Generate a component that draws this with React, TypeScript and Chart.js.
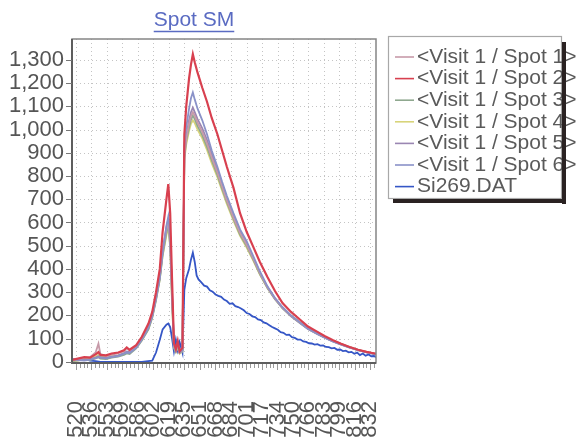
import React, { useEffect, useRef } from 'react';
import { Chart, registerables } from 'chart.js';

Chart.register(...registerables);

const chartTitle = 'Spot SM';

const wavelengths = [
  516, 522, 529, 535, 541, 544, 546, 552, 558, 565, 571, 574, 577, 584, 590, 597, 601, 605, 609, 612,
  616, 618, 620, 622, 624, 626, 628, 630, 633, 635, 637, 640, 642, 644, 646, 649, 654, 659, 664, 670,
  675, 680, 687, 694, 701, 708, 715, 723, 731, 739, 748, 758, 766, 776, 784, 792, 801, 810, 819, 828,
  834, 838,
];

const xTickLabels = [
  '520', '536', '553', '569', '586', '602', '619', '635', '651', '668',
  '684', '701', '717', '734', '750', '766', '783', '799', '816', '832',
];

const yTickValues = [0, 100, 200, 300, 400, 500, 600, 700, 800, 900, 1000, 1100, 1200, 1300];

const spot1 = [
  5, 10, 18, 20, 40, 78, 35, 25, 30, 38, 45, 60, 48, 65, 100, 150, 200, 280, 370, 480,
  570, 600, 520, 280, 70, 50, 75, 40, 50, 890, 960, 1025, 1058, 1075, 1060, 1030, 990, 940, 880, 815,
  755, 695, 622, 555, 505, 445, 383, 322, 273, 234, 199, 168, 144, 122, 106, 91, 77, 64, 52, 43,
  37, 33,
];

const spot2 = [
  8, 14, 20, 18, 32, 42, 30, 28, 36, 40, 50, 62, 52, 72, 108, 165, 215, 300, 400, 560,
  700, 765, 640, 350, 80, 55, 90, 45, 60, 980, 1100, 1220, 1280, 1325, 1290, 1245, 1180, 1120, 1050, 980,
  910, 840, 750, 640, 560, 495, 430, 365, 305, 253, 215, 180, 152, 129, 110, 94, 78, 64, 52, 43,
  38, 35,
];

const spot3 = [
  3, 6, 10, 8, 15, 20, 14, 12, 18, 22, 30, 36, 34, 58, 92, 140, 190, 265, 355, 460,
  555, 590, 500, 260, 65, 45, 70, 38, 48, 880, 950, 1010, 1042, 1060, 1045, 1015, 975, 925, 868, 805,
  745, 688, 615, 548, 498, 440, 378, 318, 270, 230, 196, 165, 141, 120, 104, 89, 75, 62, 50, 42,
  36, 32,
];

const spot4 = [
  2, 5, 12, 15, 22, 30, 25, 22, 26, 28, 35, 42, 40, 60, 95, 142, 192, 268, 355, 455,
  545, 580, 490, 250, 60, 42, 65, 35, 45, 870, 935, 995, 1025, 1040, 1028, 1000, 962, 912, 855, 795,
  737, 680, 608, 542, 492, 436, 376, 318, 271, 232, 199, 170, 146, 124, 107, 92, 77, 64, 52, 43,
  37, 33,
];

const spot5 = [
  10, 6, 8, 12, 18, 24, 20, 18, 22, 28, 38, 45, 42, 62, 98, 148, 198, 275, 365, 475,
  580, 612, 530, 290, 72, 52, 80, 42, 52, 900, 970, 1040, 1075, 1095, 1075, 1045, 1005, 955, 895, 825,
  765, 705, 630, 560, 510, 448, 385, 322, 272, 232, 197, 166, 141, 119, 103, 88, 74, 61, 50, 41,
  35, 31,
];

const spot6 = [
  12, 8, 5, 10, 16, 20, 18, 15, 20, 25, 35, 40, 38, 60, 96, 146, 196, 272, 362, 470,
  585, 625, 540, 300, 75, 50, 82, 40, 50, 930, 1010, 1090, 1135, 1160, 1130, 1090, 1040, 980, 910, 840,
  775, 715, 640, 570, 520, 455, 390, 325, 275, 235, 200, 168, 143, 121, 104, 89, 75, 62, 50, 41,
  36, 32,
];

const si269Wavelengths = [
  516, 522, 529, 535, 541, 546, 552, 565, 577, 590, 601, 605, 609, 612, 616, 618, 620, 622, 624, 626,
  628, 630, 633, 635, 637, 640, 642, 644, 646, 648, 650, 653, 656, 659, 662, 665, 668, 671, 674, 677,
  680, 683, 686, 689, 692, 695, 698, 701, 704, 707, 710, 713, 716, 719, 722, 725, 728, 731, 734, 737,
  740, 743, 746, 749, 752, 755, 758, 761, 764, 767, 770, 773, 776, 779, 782, 785, 788, 791, 794, 797,
  800, 803, 806, 809, 812, 815, 818, 821, 824, 827, 830, 833, 836, 838,
];

const si269 = [
  12, 8, 15, 5, 3, 0, 0, 0, 0, 0, 5, 40, 95, 140, 160, 165, 150, 100, 45, 95,
  50, 85, 40, 310, 360, 400, 440, 470, 430, 372, 355, 342, 328, 324, 308, 302, 290, 284, 280, 268,
  262, 250, 252, 240, 236, 230, 222, 210, 206, 196, 193, 183, 180, 170, 166, 158, 150, 144, 138, 128,
  125, 116, 117, 106, 103, 96, 96, 88, 86, 80, 79, 74, 76, 70, 71, 64, 63, 58, 60, 52,
  53, 46, 48, 41, 43, 35, 40, 29, 36, 26, 32, 24, 25, 20,
];

const seriesNames = [
  '<Visit 1 / Spot 1>',
  '<Visit 1 / Spot 2>',
  '<Visit 1 / Spot 3>',
  '<Visit 1 / Spot 4>',
  '<Visit 1 / Spot 5>',
  '<Visit 1 / Spot 6>',
  'Si269.DAT',
];

const seriesColors = ['#c79aa9', '#d8404f', '#8fa88f', '#d8d47a', '#9a86b2', '#8a92c8', '#3556c6'];
const seriesOrder = [2, 0, 3, 4, 2, 1, 5];

const FONT = "'Liberation Sans', Arial, sans-serif";

export default function App() {
  const ref = useRef<HTMLCanvasElement>(null);

  useEffect(() => {
    const canvas = ref.current;
    if (!canvas) return;
    const allSeries = [spot1, spot2, spot3, spot4, spot5, spot6, si269];
    const allX = [wavelengths, wavelengths, wavelengths, wavelengths, wavelengths, wavelengths, si269Wavelengths];

    const decor = {
      id: 'decor',
      beforeDatasetsDraw(chart: any) {
        const { ctx, chartArea: a, scales } = chart;
        const xs = scales.x;
        const ys = scales.y;
        ctx.save();
        ctx.strokeStyle = '#c4c4c4';
        ctx.lineWidth = 1;
        ctx.setLineDash([1, 3]);
        xs.ticks.forEach((t: any) => {
          const px = Math.round(xs.getPixelForValue(t.value)) + 0.5;
          ctx.beginPath();
          ctx.moveTo(px, a.top);
          ctx.lineTo(px, a.bottom);
          ctx.stroke();
        });
        ys.ticks.forEach((t: any) => {
          const py = Math.round(ys.getPixelForValue(t.value)) + 0.5;
          ctx.beginPath();
          ctx.moveTo(a.left, py);
          ctx.lineTo(a.right, py);
          ctx.stroke();
        });
        ctx.restore();
      },
      afterDatasetsDraw(chart: any) {
        const { ctx, chartArea: a, scales } = chart;
        const xs = scales.x;
        const ys = scales.y;
        ctx.save();
        ctx.strokeStyle = '#858585';
        ctx.lineWidth = 1.5;
        ctx.strokeRect(a.left, a.top, a.right - a.left, a.bottom - a.top);
        ctx.strokeStyle = '#5e5e5e';
        ctx.lineWidth = 2;
        ctx.beginPath();
        ctx.moveTo(a.left, a.top);
        ctx.lineTo(a.left, a.bottom);
        ctx.lineTo(a.right, a.bottom);
        ctx.stroke();
        ctx.strokeStyle = '#777';
        ctx.lineWidth = 1;
        ys.ticks.forEach((t: any) => {
          const py = Math.round(ys.getPixelForValue(t.value)) + 0.5;
          ctx.beginPath();
          ctx.moveTo(a.left - 6, py);
          ctx.lineTo(a.left, py);
          ctx.stroke();
        });
        const majors = xs.ticks.map((t: any) => xs.getPixelForValue(t.value));
        const step = (majors[majors.length - 1] - majors[0]) / (majors.length - 1) / 4;
        let start = majors[0];
        while (start - step >= a.left) start -= step;
        ctx.strokeStyle = '#9a9a9a';
        let k = 0;
        const offset = Math.round((majors[0] - start) / step);
        for (let p = start; p <= a.right + 0.1; p += step, k++) {
          const isMajor = (k - offset) % 4 === 0;
          const px = Math.round(p) + 0.5;
          ctx.beginPath();
          ctx.moveTo(px, a.bottom + 1);
          ctx.lineTo(px, a.bottom + (isMajor ? 7 : 5));
          ctx.stroke();
        }
        ctx.restore();
      },
      afterDraw(chart: any) {
        const { ctx } = chart;
        ctx.save();
        ctx.font = `21px ${FONT}`;
        ctx.fillStyle = '#5a6bc2';
        ctx.textAlign = 'center';
        ctx.textBaseline = 'middle';
        const tx = 194;
        const ty = 20;
        ctx.fillText(chartTitle, tx, ty);
        const tw = ctx.measureText(chartTitle).width;
        ctx.strokeStyle = '#5a6bc2';
        ctx.lineWidth = 1.3;
        ctx.beginPath();
        ctx.moveTo(tx - tw / 2, 31.5);
        ctx.lineTo(tx + tw / 2, 31.5);
        ctx.stroke();

        const bx = 388;
        const by = 36;
        const bw = 173;
        const bh = 162;
        ctx.fillStyle = '#ffffff';
        ctx.fillRect(bx, by, bw, bh);
        ctx.strokeStyle = '#a8a8a8';
        ctx.lineWidth = 1.2;
        ctx.strokeRect(bx + 0.5, by + 0.5, bw, bh);
        ctx.font = `21px ${FONT}`;
        ctx.textAlign = 'left';
        ctx.textBaseline = 'middle';
        seriesNames.forEach((name, i) => {
          const y = 56 + i * 21.6;
          ctx.strokeStyle = seriesColors[i];
          ctx.lineWidth = 1.6;
          ctx.beginPath();
          ctx.moveTo(395, y + 1);
          ctx.lineTo(414, y + 1);
          ctx.stroke();
          ctx.fillStyle = '#5a5a5a';
          ctx.fillText(name, 417, y + 1);
        });
        ctx.fillStyle = '#2a2222';
        ctx.fillRect(bx + bw + 1, by + 6, 4, bh);
        ctx.fillRect(bx + 5, by + bh + 1, bw, 4);
        ctx.restore();
      },
    };

    const chart = new Chart(canvas, {
      type: 'line',
      data: {
        datasets: allSeries.map((vals, i) => ({
          label: seriesNames[i],
          data: allX[i].map((x, j) => ({ x, y: vals[j] })),
          borderColor: seriesColors[i],
          backgroundColor: seriesColors[i],
          borderWidth: i === 1 ? 2.2 : 1.8,
          pointRadius: 0,
          tension: 0,
          fill: false,
          order: seriesOrder[i],
        })),
      },
      options: {
        animation: false,
        responsive: false,
        devicePixelRatio: 1,
        layout: { padding: { top: 39, right: 209, bottom: 0, left: 0 } },
        plugins: {
          legend: { display: false },
          title: { display: false },
          tooltip: { enabled: false },
        },
        scales: {
          x: {
            type: 'linear',
            min: 516,
            max: 838,
            afterBuildTicks: (scale: any) => {
              scale.ticks = xTickLabels.map((l) => ({ value: Number(l) }));
            },
            afterFit: (scale: any) => {
              scale.height = 80;
            },
            grid: { display: false, drawTicks: false },
            border: { display: false },
            ticks: {
              autoSkip: false,
              minRotation: 90,
              maxRotation: 90,
              padding: 38,
              color: '#555',
              font: { family: FONT, size: 22 },
              callback: (_v: any, i: number) => xTickLabels[i],
            },
          },
          y: {
            type: 'linear',
            min: -5,
            max: 1390,
            afterBuildTicks: (scale: any) => {
              scale.ticks = yTickValues.map((v) => ({ value: v }));
            },
            afterFit: (scale: any) => {
              scale.width = 72;
            },
            grid: { display: false, drawTicks: false },
            border: { display: false },
            ticks: {
              autoSkip: false,
              padding: 8,
              color: '#555',
              font: { family: FONT, size: 22 },
              callback: (v: any) => Number(v).toLocaleString('en-US'),
            },
          },
        },
      },
      plugins: [decor],
    } as any);

    return () => chart.destroy();
  }, []);

  return (
    <div style={{ position: 'fixed', left: 0, top: 0, width: 585, height: 443, background: '#ffffff' }}>
      <canvas ref={ref} width={585} height={443} style={{ display: 'block', width: 585, height: 443 }} />
    </div>
  );
}
